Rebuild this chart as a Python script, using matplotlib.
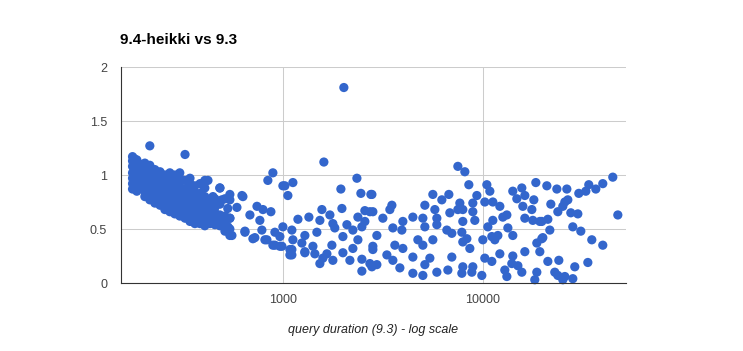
import matplotlib
matplotlib.use("Agg")
import matplotlib.pyplot as plt
from matplotlib.ticker import FixedLocator, NullLocator, FixedFormatter

plt.rcParams['font.family'] = ['Liberation Sans', 'DejaVu Sans']

# czas zapytania w 9.3 (ms) i stosunek 9.4-heikki / 9.3
# gesta chmura dla krotkich zapytan
blob_x = [177]*7 + [181]*5 + [186]*6 + [193]*5 + [204]*7 + [216]*8 + [229]*7 + \
         [243]*7 + [257]*7 + [272]*8 + [288]*8 + [305]*9 + [324]*8 + [343]*8 + \
         [363]*7 + [385]*7 + [407]*7 + [432]*5 + [457]*5 + [484]*5 + [513]*4 + [543]*4
blob_y = [0.87, 0.92, 0.97, 1.02, 1.08, 1.13, 1.17,
          0.93, 1.0, 1.05, 1.1, 1.15,
          0.85, 0.9, 0.96, 1.03, 1.09, 1.14,
          0.88, 0.93, 0.99, 1.05, 1.1,
          0.8, 0.85, 0.9, 0.96, 1.02, 1.07, 1.11,
          0.77, 0.82, 0.87, 0.93, 0.98, 1.04, 1.09, 1.27,
          0.74, 0.8, 0.85, 0.9, 0.95, 1.0, 1.05,
          0.72, 0.77, 0.82, 0.88, 0.93, 0.98, 1.03,
          0.68, 0.74, 0.8, 0.85, 0.9, 0.95, 1.0,
          0.66, 0.72, 0.77, 0.82, 0.87, 0.92, 0.97, 1.02,
          0.64, 0.7, 0.75, 0.8, 0.86, 0.9, 0.95, 1.0,
          0.62, 0.68, 0.73, 0.78, 0.83, 0.88, 0.93, 0.97, 1.02,
          0.6, 0.66, 0.72, 0.77, 0.82, 0.87, 0.95, 1.19,
          0.57, 0.63, 0.68, 0.74, 0.8, 0.86, 0.92, 0.97,
          0.55, 0.62, 0.67, 0.72, 0.78, 0.84, 0.9,
          0.55, 0.6, 0.65, 0.7, 0.76, 0.83, 0.92,
          0.57, 0.62, 0.68, 0.74, 0.8, 0.88, 0.95,
          0.55, 0.6, 0.66, 0.72, 0.77,
          0.54, 0.6, 0.65, 0.7, 0.78,
          0.53, 0.58, 0.63, 0.73, 0.88,
          0.48, 0.56, 0.62, 0.78,
          0.44, 0.5, 0.6, 0.77]

# reszta punktow
rest_x = [422, 395, 484, 543, 624, 447, 495, 589, 530, 742, 795, 871, 684, 767, 543,
          422, 484, 407, 531, 646, 556, 724, 785, 832, 912, 966, 912, 966, 841, 891,
          1000, 631, 646, 708, 813, 891, 1084, 1084, 1288,
          1603, 1023, 1122, 1059, 2345, 1950, 2455, 2755, 1973, 1567, 1718, 1189, 1349,
          1531, 2372, 2570, 2723, 2570, 1778, 2090, 1000, 1109, 1479, 1818, 2239, 2483,
          1122, 1288, 1996, 2372, 1244, 1413, 989, 1758, 2239, 1109, 1288, 1445, 1660,
          1996, 1109, 1585, 1778, 2163, 2483, 1531, 2723, 2483, 2787, 2818, 2018,
          7500, 8128, 2787, 5623, 6237, 6761, 3508, 3428, 5129, 5754, 7674, 2818, 3162,
          3981, 4467, 5012, 5888, 6839, 7500, 3548, 3935, 2951, 5129, 5888, 6607, 7852,
          4733, 5623, 5012, 3631, 2818, 3981, 4467, 6996, 3312, 2951, 3548, 3846, 4467,
          5129, 5012, 5888, 6685, 7852, 5433, 7940, 6996,
          8511, 10473, 10840, 9334, 14120, 15665, 18410, 14793, 16220, 17990, 8910,
          10230, 11220, 12162, 15850, 17580, 7940, 8910, 12590, 13185, 16220, 17780,
          19275, 11220, 9118, 7940, 10596, 13340, 14120, 11890, 11090, 10000, 8319,
          8610, 11480, 19720, 18620, 19275, 16220, 12162, 10230, 11090, 14120, 13960,
          14970, 15665, 12880, 13185, 18190, 18620, 7940, 8910, 9883, 8808,
          44660, 47330, 39800, 36730, 33880, 32740, 30200, 26310, 23450, 20900, 26610,
          25710, 25120, 23720, 21880, 27540, 29860, 21140, 19720, 28180, 30900, 21627,
          19950, 35070, 39800, 21140, 23990, 28830, 33510, 22900, 23720, 25710, 28180,
          25120]
rest_y = [0.95, 0.91, 0.88, 0.82, 0.81, 0.80, 0.77, 0.70, 0.69, 0.71, 0.68, 0.66, 0.63, 0.58, 0.60,
          0.60, 0.56, 0.53, 0.52, 0.48, 0.44, 0.42, 0.49, 0.40, 0.47, 0.43, 0.35, 0.34, 0.95, 1.02,
          0.90, 0.80, 0.47, 0.41, 0.40, 0.35, 0.31, 0.26, 0.29,
          1.12, 0.90, 0.93, 0.81, 0.97, 0.87, 0.83, 0.82, 0.69, 0.68, 0.63, 0.59, 0.61,
          0.58, 0.61, 0.67, 0.66, 0.57, 0.55, 0.54, 0.52, 0.49, 0.47, 0.51, 0.49, 0.52,
          0.40, 0.44, 0.43, 0.40, 0.37, 0.34, 0.34, 0.35, 0.32, 0.31, 0.28, 0.27, 0.27,
          0.28, 0.26, 0.23, 0.21, 0.21, 0.22, 0.18, 0.18, 0.11, 0.15, 0.31, 1.81,
          1.08, 1.03, 0.82, 0.82, 0.77, 0.82, 0.72, 0.68, 0.72, 0.68, 0.74, 0.66, 0.60,
          0.57, 0.61, 0.60, 0.60, 0.65, 0.68, 0.51, 0.49, 0.44, 0.52, 0.54, 0.49, 0.47,
          0.40, 0.40, 0.35, 0.35, 0.34, 0.32, 0.24, 0.24, 0.26, 0.17, 0.21, 0.14, 0.09,
          0.17, 0.07, 0.10, 0.12, 0.09, 0.23, 0.38, 0.46,
          0.91, 0.91, 0.85, 0.81, 0.85, 0.88, 0.93, 0.78, 0.81, 0.77, 0.74,
          0.75, 0.75, 0.71, 0.71, 0.68, 0.68, 0.66, 0.61, 0.63, 0.60, 0.58,
          0.57, 0.58, 0.58, 0.57, 0.52, 0.51, 0.44, 0.44, 0.43, 0.40, 0.41,
          0.32, 0.40, 0.41, 0.37, 0.29, 0.29, 0.27, 0.23, 0.20, 0.25, 0.18,
          0.16, 0.10, 0.12, 0.06, 0.03, 0.10, 0.15, 0.15, 0.07, 0.10,
          0.98, 0.63, 0.92, 0.87, 0.91, 0.85, 0.83, 0.87, 0.87, 0.90, 0.77,
          0.75, 0.71, 0.66, 0.73, 0.65, 0.64, 0.59, 0.57, 0.52, 0.48, 0.49,
          0.42, 0.40, 0.35, 0.20, 0.21, 0.15, 0.19, 0.10, 0.07, 0.06, 0.04,
          0.03]

durations = blob_x + rest_x
ratios = blob_y + rest_y

y_ticks = [0, 0.5, 1, 1.5, 2]
y_labels = ['0', '0.5', '1', '1.5', '2']
x_ticks = [1000, 10000]
x_labels = ['1000', '10000']

fig = plt.figure(figsize=(7.43, 3.51), dpi=100)
ax = fig.add_axes([121/743, 68/351, 505/743, 216/351])

ax.scatter(durations, ratios, s=44, c='#3366cc', edgecolors='none', zorder=3, clip_on=False)

ax.set_xscale('log')
ax.set_xlim(155, 52000)
ax.set_ylim(0, 2)

ax.xaxis.set_major_locator(FixedLocator(x_ticks))
ax.xaxis.set_major_formatter(FixedFormatter(x_labels))
ax.xaxis.set_minor_locator(NullLocator())
ax.set_yticks(y_ticks)
ax.set_yticklabels(y_labels)

ax.grid(True, color='#cccccc', linewidth=0.75, zorder=0)
ax.set_axisbelow(True)
ax.tick_params(length=0, labelsize=9, labelcolor='#444444')
ax.tick_params(axis='y', pad=10)
ax.tick_params(axis='x', pad=8)
for s in ['top', 'right']:
    ax.spines[s].set_visible(False)
ax.spines['left'].set_color('#333333')
ax.spines['bottom'].set_color('#333333')
ax.spines['left'].set_zorder(4)
ax.spines['bottom'].set_zorder(4)

ax.set_xlabel('query duration (9.3) - log scale', fontsize=9, style='italic', color='#222222', labelpad=13)
fig.text(120/743, 1 - 44/351, '9.4-heikki vs 9.3', fontsize=11, fontweight='bold', color='#000000',
         ha='left', va='baseline')

plt.savefig('out.png', dpi=100)
